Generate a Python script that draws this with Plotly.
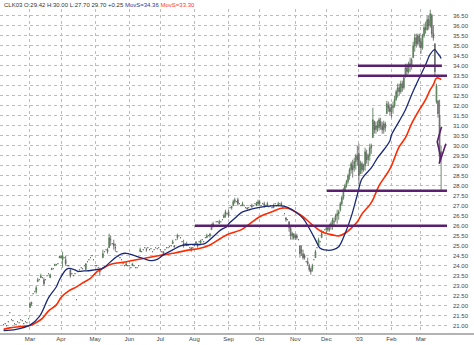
import pandas as pd
import plotly.graph_objects as go

# NYMEX holidays inside the charted span
holidays = ["2002-02-18", "2002-03-29", "2002-05-27", "2002-07-04", "2002-09-02",
            "2002-11-28", "2002-12-25", "2003-01-01", "2003-01-20", "2003-02-17"]

# Daily bars (open, high, low, close), one list per month
feb_02 = [(21.05, 21.05, 21.05, 21.05), (21.10, 21.10, 21.10, 21.10), (21.00, 21.00, 21.00, 21.00),
          (21.20, 21.20, 21.20, 21.20), (21.65, 21.65, 21.65, 21.65), (21.30, 21.30, 21.30, 21.30),
          (21.25, 21.25, 21.25, 21.25), (21.10, 21.10, 21.10, 21.10), (21.05, 21.05, 21.05, 21.05),
          (21.20, 21.20, 21.20, 21.20), (21.15, 21.15, 21.15, 21.15), (21.30, 21.30, 21.30, 21.30),
          (21.25, 21.25, 21.25, 21.25), (21.10, 21.10, 21.10, 21.10), (21.20, 21.20, 21.20, 21.20),
          (21.15, 21.15, 21.15, 21.15), (21.35, 21.35, 21.35, 21.35)]
mar_02 = [(21.90, 22.20, 21.90, 22.10), (22.10, 22.20, 22.00, 22.15), (22.60, 22.60, 22.60, 22.60),
          (22.70, 22.70, 22.70, 22.70), (22.70, 23.00, 22.60, 22.90), (23.20, 23.40, 23.20, 23.30),
          (23.30, 23.30, 23.30, 23.30), (23.40, 23.60, 23.40, 23.50), (23.40, 23.40, 23.40, 23.40),
          (23.30, 23.40, 23.00, 23.10), (23.30, 23.30, 23.30, 23.30), (23.50, 23.50, 23.50, 23.50),
          (23.60, 23.60, 23.60, 23.60), (23.40, 23.60, 23.40, 23.55), (23.80, 23.90, 23.80, 23.85),
          (23.85, 23.85, 23.85, 23.85), (24.00, 24.10, 24.00, 24.05), (24.05, 24.05, 24.05, 24.05),
          (24.10, 24.10, 24.10, 24.10), (24.40, 24.50, 24.40, 24.45)]
apr_02 = [(24.40, 24.50, 24.35, 24.45), (24.30, 24.70, 23.90, 24.50), (24.40, 24.40, 24.40, 24.40),
          (24.30, 24.50, 24.00, 24.10), (24.00, 24.00, 24.00, 24.00), (24.00, 24.00, 24.00, 24.00),
          (23.80, 23.80, 23.40, 23.50), (23.60, 23.60, 23.60, 23.60), (23.50, 23.50, 23.50, 23.50),
          (23.60, 23.60, 23.60, 23.60), (22.30, 22.30, 22.30, 22.30), (23.70, 23.70, 23.70, 23.70),
          (23.80, 23.80, 23.80, 23.80), (23.90, 23.90, 23.90, 23.90), (23.85, 23.85, 23.85, 23.85),
          (24.00, 24.00, 24.00, 24.00), (23.80, 24.10, 23.80, 24.10), (24.20, 24.20, 24.20, 24.20),
          (24.30, 24.30, 24.30, 24.30), (24.40, 24.40, 24.40, 24.40), (24.50, 24.50, 24.50, 24.50),
          (24.30, 24.30, 24.30, 24.30)]
may_02 = [(24.00, 24.00, 24.00, 24.00), (24.00, 24.00, 24.00, 24.00), (23.90, 23.90, 23.90, 23.90),
          (23.80, 23.90, 23.50, 23.70), (23.80, 23.80, 23.80, 23.80), (24.40, 24.80, 24.40, 24.60),
          (24.70, 24.70, 24.70, 24.70), (24.80, 24.80, 24.80, 24.80), (24.70, 24.90, 24.60, 24.80),
          (24.90, 25.60, 24.90, 25.40), (25.30, 25.50, 25.00, 25.30), (25.10, 25.10, 25.10, 25.10),
          (25.10, 25.30, 24.80, 25.00), (24.90, 25.10, 24.70, 24.90), (24.70, 24.70, 24.70, 24.70),
          (24.50, 24.50, 24.50, 24.50), (24.40, 24.40, 24.40, 24.40), (24.30, 24.30, 24.30, 24.30),
          (24.10, 24.10, 24.10, 24.10), (24.00, 24.00, 24.00, 24.00), (24.00, 24.20, 24.00, 24.10),
          (24.00, 24.00, 24.00, 24.00)]
jun_02 = [(24.00, 24.00, 24.00, 24.00), (23.90, 23.90, 23.90, 23.90), (24.00, 24.10, 24.00, 24.10),
          (24.00, 24.00, 24.00, 24.00), (23.90, 23.90, 23.90, 23.90), (23.90, 23.90, 23.90, 23.90),
          (24.00, 24.00, 24.00, 24.00), (24.70, 24.90, 24.70, 24.80), (24.70, 24.70, 24.70, 24.70),
          (24.80, 24.80, 24.80, 24.80), (24.90, 24.90, 24.90, 24.90), (24.80, 24.90, 24.70, 24.80),
          (24.90, 24.90, 24.90, 24.90), (24.80, 24.80, 24.80, 24.80), (24.85, 24.85, 24.85, 24.85),
          (24.70, 24.70, 24.70, 24.70), (24.80, 24.80, 24.80, 24.80), (24.90, 24.90, 24.90, 24.90),
          (24.85, 24.85, 24.85, 24.85), (24.90, 24.90, 24.90, 24.90)]
jul_02 = [(24.80, 24.80, 24.80, 24.80), (24.70, 24.70, 24.70, 24.70), (24.70, 24.70, 24.50, 24.60),
          (24.80, 24.80, 24.80, 24.80), (24.90, 24.90, 24.90, 24.90), (24.90, 24.90, 24.90, 24.90),
          (24.95, 24.95, 24.95, 24.95), (25.00, 25.00, 25.00, 25.00), (25.10, 25.30, 25.10, 25.20),
          (25.00, 25.00, 24.90, 24.95), (25.30, 25.30, 25.30, 25.30), (25.40, 25.60, 25.30, 25.50),
          (25.50, 25.50, 25.50, 25.50), (25.40, 25.40, 25.40, 25.40), (25.20, 25.20, 25.20, 25.20),
          (25.10, 25.30, 24.90, 25.00), (25.10, 25.10, 25.10, 25.10), (25.00, 25.20, 25.00, 25.10),
          (25.05, 25.05, 25.05, 25.05), (24.90, 24.90, 24.90, 24.90), (24.90, 24.90, 24.70, 24.80),
          (24.90, 24.90, 24.90, 24.90)]
aug_02 = [(25.00, 25.00, 25.00, 25.00), (25.10, 25.20, 25.10, 25.20), (25.10, 25.10, 24.90, 25.00),
          (25.20, 25.20, 25.20, 25.20), (25.15, 25.30, 25.10, 25.25), (25.30, 25.30, 25.30, 25.30),
          (25.20, 25.20, 25.20, 25.20), (25.40, 25.40, 25.40, 25.40), (25.40, 25.60, 25.40, 25.50),
          (25.50, 25.50, 25.50, 25.50), (25.50, 25.60, 25.40, 25.60), (25.80, 26.10, 25.80, 26.00),
          (26.00, 26.20, 25.90, 26.10), (26.00, 26.00, 26.00, 26.00), (26.20, 26.20, 26.20, 26.20),
          (26.20, 26.20, 26.20, 26.20), (26.10, 26.30, 26.10, 26.20), (26.20, 26.20, 26.20, 26.20),
          (26.30, 26.30, 26.30, 26.30), (26.40, 26.60, 26.40, 26.50), (26.50, 26.80, 26.40, 26.70),
          (26.60, 26.60, 26.60, 26.60)]
sep_02 = [(26.70, 26.80, 26.40, 26.50), (26.90, 26.90, 26.90, 26.90), (26.90, 27.00, 26.80, 26.95),
          (27.00, 27.30, 27.00, 27.20), (27.20, 27.40, 27.10, 27.30), (27.20, 27.20, 27.20, 27.20),
          (27.30, 27.40, 27.00, 27.10), (27.10, 27.10, 27.10, 27.10), (27.00, 27.00, 27.00, 27.00),
          (27.00, 27.20, 27.00, 27.10), (27.00, 27.00, 27.00, 27.00), (26.90, 26.90, 26.90, 26.90),
          (26.90, 26.90, 26.80, 26.85), (26.90, 26.90, 26.90, 26.90), (27.00, 27.00, 27.00, 27.00),
          (27.00, 27.10, 26.90, 26.95), (27.00, 27.00, 27.00, 27.00), (27.10, 27.10, 27.10, 27.10),
          (27.00, 27.20, 27.00, 27.10), (27.10, 27.30, 27.00, 27.20)]
oct_02 = [(27.20, 27.30, 27.00, 27.10), (27.00, 27.00, 27.00, 27.00), (27.10, 27.10, 27.10, 27.10),
          (27.10, 27.20, 26.90, 27.00), (27.00, 27.00, 27.00, 27.00), (27.00, 27.20, 27.00, 27.10),
          (26.95, 26.95, 26.95, 26.95), (27.00, 27.00, 27.00, 27.00), (26.90, 26.90, 26.90, 26.90),
          (26.90, 27.10, 26.90, 27.00), (27.10, 27.10, 27.10, 27.10), (27.00, 27.00, 27.00, 27.00),
          (27.00, 27.20, 27.00, 27.10), (27.10, 27.10, 27.10, 27.10), (27.10, 27.20, 27.00, 27.00),
          (26.90, 26.90, 26.90, 26.90), (26.60, 26.60, 26.60, 26.60), (26.40, 26.40, 26.20, 26.30),
          (26.30, 26.30, 26.30, 26.30), (26.20, 26.20, 25.70, 25.90), (25.90, 26.00, 25.30, 25.50),
          (25.50, 25.70, 25.30, 25.60), (25.60, 25.60, 25.30, 25.40)]
nov_02 = [(25.40, 25.60, 25.30, 25.50), (25.50, 25.60, 25.30, 25.40), (25.30, 25.30, 25.30, 25.30),
          (25.00, 25.00, 24.40, 24.60), (24.70, 25.00, 24.50, 24.80), (24.60, 24.80, 24.30, 24.40),
          (24.50, 24.60, 24.30, 24.40), (24.20, 24.20, 24.20, 24.20), (24.20, 24.40, 24.00, 24.10),
          (24.00, 24.10, 23.70, 23.80), (23.80, 23.90, 23.55, 23.70), (23.80, 24.10, 23.70, 24.00),
          (24.30, 24.30, 24.30, 24.30), (24.40, 24.80, 24.40, 24.70), (24.90, 24.90, 24.90, 24.90),
          (25.00, 25.40, 25.00, 25.30), (25.20, 25.20, 25.20, 25.20), (25.40, 25.80, 25.40, 25.60),
          (25.70, 25.70, 25.70, 25.70), (25.80, 25.80, 25.80, 25.80)]
dec_02 = [(25.80, 26.00, 25.60, 25.90), (25.90, 26.00, 25.70, 25.80), (25.80, 26.10, 25.70, 26.00),
          (26.00, 26.20, 25.80, 26.10), (26.00, 26.40, 25.80, 26.30), (26.20, 26.40, 26.00, 26.20),
          (26.30, 26.60, 26.20, 26.50), (26.50, 26.80, 26.10, 26.60), (26.60, 26.80, 26.30, 26.70),
          (26.80, 27.20, 26.70, 27.10), (27.10, 27.50, 27.00, 27.40), (27.40, 27.90, 27.30, 27.80),
          (27.80, 28.10, 27.70, 28.00), (28.00, 28.30, 27.90, 28.20), (28.20, 28.60, 28.10, 28.50),
          (28.50, 28.90, 28.30, 28.80), (28.80, 29.20, 28.60, 29.10), (29.00, 29.30, 28.40, 28.80),
          (28.90, 29.40, 28.70, 29.20), (29.20, 29.60, 28.80, 29.50), (29.50, 30.00, 29.00, 29.30)]
jan_03 = [(29.60, 30.10, 28.10, 28.50), (28.60, 29.25, 28.60, 29.10), (29.10, 29.20, 28.60, 28.80),
          (28.80, 29.10, 28.70, 29.00), (29.00, 29.90, 28.75, 29.70), (29.60, 29.80, 29.10, 29.30),
          (29.30, 29.60, 29.00, 29.50), (29.50, 30.10, 29.25, 29.90), (29.90, 30.10, 29.60, 30.00),
          (30.40, 31.90, 30.40, 31.30), (31.20, 31.25, 30.60, 30.80), (30.80, 31.20, 30.60, 31.00),
          (31.00, 31.25, 30.70, 30.90), (30.90, 31.40, 30.75, 31.30), (31.20, 31.40, 30.80, 31.00),
          (31.00, 31.20, 30.60, 30.80), (30.80, 31.25, 30.60, 31.10), (31.10, 31.20, 30.70, 30.90),
          (31.60, 32.25, 31.60, 32.10), (32.00, 32.20, 31.70, 31.90), (31.90, 32.10, 31.50, 31.70)]
feb_03 = [(31.70, 32.10, 31.40, 31.90), (31.90, 32.20, 31.60, 32.00), (32.00, 32.50, 31.90, 32.30),
          (32.30, 32.80, 32.25, 32.70), (32.70, 33.10, 32.40, 32.90), (32.90, 33.10, 32.50, 32.70),
          (32.70, 33.25, 32.60, 33.10), (33.10, 33.25, 32.70, 32.90), (32.90, 33.50, 32.80, 33.40),
          (33.50, 34.10, 33.40, 33.90), (33.90, 34.10, 33.50, 33.70), (33.70, 34.20, 33.60, 34.10),
          (34.10, 34.40, 33.70, 34.00), (34.00, 34.40, 33.80, 34.30), (34.40, 35.20, 34.40, 35.00),
          (35.00, 35.60, 34.70, 35.40), (35.40, 35.60, 34.90, 35.10), (35.10, 35.60, 35.00, 35.50),
          (35.50, 35.60, 34.90, 35.20)]
mar_03 = [(35.20, 35.40, 34.60, 34.90), (34.90, 35.60, 34.80, 35.50), (35.50, 36.10, 35.40, 35.90),
          (35.90, 36.20, 35.60, 35.80), (35.80, 36.50, 35.75, 36.30), (36.30, 36.50, 35.80, 36.00),
          (36.00, 36.80, 35.90, 36.60), (36.50, 36.60, 35.40, 35.60), (35.60, 36.00, 35.25, 35.40),
          (35.10, 35.10, 33.50, 33.70), (32.20, 33.10, 32.10, 33.00), (32.25, 32.25, 31.40, 31.60),
          (31.50, 32.30, 29.30, 29.45), (29.42, 30.00, 27.70, 29.70)]

# Moving averages (fast = blue, slow = red)
ma_fast_dates = ["2002-02-05", "2002-02-15", "2002-03-01", "2002-03-11", "2002-03-19", "2002-03-26",
                 "2002-03-28", "2002-04-04", "2002-04-08", "2002-04-12", "2002-04-16", "2002-04-22",
                 "2002-04-26", "2002-05-02", "2002-05-07", "2002-05-10", "2002-05-17", "2002-05-24",
                 "2002-05-30", "2002-06-05", "2002-06-14", "2002-06-21", "2002-06-27", "2002-07-03",
                 "2002-07-12", "2002-07-19", "2002-07-29", "2002-08-06", "2002-08-12", "2002-08-19",
                 "2002-08-26", "2002-08-30", "2002-09-03", "2002-09-10", "2002-09-16", "2002-09-23",
                 "2002-10-01", "2002-10-11", "2002-10-21", "2002-10-25", "2002-11-01", "2002-11-08",
                 "2002-11-14", "2002-11-20", "2002-11-25", "2002-11-29", "2002-12-06", "2002-12-12",
                 "2002-12-18", "2002-12-24", "2002-12-31", "2003-01-06", "2003-01-14", "2003-01-21",
                 "2003-01-28", "2003-01-31", "2003-02-03", "2003-02-10", "2003-02-14", "2003-02-21",
                 "2003-02-28", "2003-03-06", "2003-03-11", "2003-03-14", "2003-03-17", "2003-03-19",
                 "2003-03-20"]
ma_fast = [20.76, 20.82, 21.03, 21.45, 22.40, 22.95, 23.30, 23.79, 23.87, 23.79, 23.72, 23.74,
           23.76, 23.81, 23.84, 23.99, 24.34, 24.59, 24.62, 24.54, 24.36, 24.25, 24.32, 24.54,
           24.79, 24.99, 25.06, 25.06, 25.12, 25.45, 25.79, 25.96, 26.09, 26.44, 26.69, 26.81,
           26.92, 26.99, 26.99, 26.92, 26.70, 26.37, 25.87, 25.29, 24.87, 24.79, 24.79, 24.95,
           25.59, 26.44, 27.55, 28.35, 28.89, 29.39, 29.89, 30.25, 30.54, 31.23, 31.80, 32.55,
           33.40, 34.05, 34.58, 34.80, 34.70, 34.50, 34.36]

ma_slow_dates = ["2002-02-05", "2002-02-11", "2002-02-20", "2002-03-01", "2002-03-07", "2002-03-13",
                 "2002-03-19", "2002-03-26", "2002-04-01", "2002-04-08", "2002-04-15", "2002-04-19",
                 "2002-04-26", "2002-05-02", "2002-05-08", "2002-05-14", "2002-05-20", "2002-05-28",
                 "2002-06-05", "2002-06-14", "2002-06-24", "2002-07-03", "2002-07-16", "2002-07-29",
                 "2002-08-06", "2002-08-15", "2002-08-26", "2002-09-03", "2002-09-13", "2002-09-23",
                 "2002-10-01", "2002-10-11", "2002-10-21", "2002-10-25", "2002-11-01", "2002-11-08",
                 "2002-11-18", "2002-11-26", "2002-12-06", "2002-12-12", "2002-12-18", "2002-12-24",
                 "2002-12-31", "2003-01-06", "2003-01-13", "2003-01-15", "2003-01-22", "2003-01-31",
                 "2003-02-10", "2003-02-14", "2003-02-21", "2003-02-28", "2003-03-06", "2003-03-11",
                 "2003-03-13", "2003-03-17", "2003-03-19", "2003-03-20"]
ma_slow = [20.82, 20.89, 20.95, 21.01, 21.16, 21.37, 21.74, 22.04, 22.41, 22.74, 22.94, 23.14,
           23.37, 23.69, 23.87, 24.04, 24.12, 24.17, 24.26, 24.36, 24.45, 24.54, 24.65, 24.79,
           24.86, 25.04, 25.37, 25.59, 25.79, 26.12, 26.45, 26.70, 26.87, 26.87, 26.70, 26.45,
           26.04, 25.70, 25.54, 25.49, 25.62, 25.87, 26.20, 26.59, 27.04, 27.29, 28.00, 28.84,
           29.95, 30.40, 31.10, 31.80, 32.30, 32.80, 33.05, 33.38, 33.36, 33.30]

# Horizontal support / resistance levels
level_prices = [34.00, 33.50, 27.75, 26.00]
level_starts = ["2002-12-31 09:00", "2002-12-31 09:00", "2002-12-02 10:00", "2002-08-01 07:00"]
level_ends = ["2003-03-20 12:00", "2003-03-26", "2003-03-26", "2003-03-26"]

# Small hand-drawn zigzag at the last bars
zigzag_dates = ["2003-03-20 07:00", "2003-03-17 12:00", "2003-03-19 17:00", "2003-03-18 19:00",
                "2003-03-25 02:00"]
zigzag_prices = [30.95, 30.20, 29.45, 29.10, 30.10]

month_starts = ["2002-03-01", "2002-04-01", "2002-05-01", "2002-06-03", "2002-07-01", "2002-08-01",
                "2002-09-03", "2002-10-01", "2002-11-01", "2002-12-02", "2003-01-02", "2003-02-03",
                "2003-03-03"]
month_labels = ["Mar", "Apr", "May", "Jun", "Jul", "Aug", "Sep", "Oct", "Nov", "Dec", "'03", "Feb", "Mar"]

price_ticks = [21.0 + 0.5 * i for i in range(32)]

months = [feb_02, mar_02, apr_02, may_02, jun_02, jul_02, aug_02, sep_02, oct_02, nov_02,
          dec_02, jan_03, feb_03, mar_03]
bars = [b for m in months for b in m]
days = pd.bdate_range("2002-02-05", "2003-03-20", freq="C", holidays=holidays)
assert len(days) == len(bars), (len(days), len(bars))

opens = [b[0] for b in bars]
highs = [b[1] for b in bars]
lows = [b[2] for b in bars]
closes = [b[3] for b in bars]

fig = go.Figure()

fig.add_trace(go.Candlestick(
    x=days, open=opens, high=highs, low=lows, close=closes,
    increasing=dict(line=dict(color="#4e6e4e", width=0.8), fillcolor="#7fd07f"),
    decreasing=dict(line=dict(color="#5a5a5a", width=0.8), fillcolor="#a8a8a8"),
    whiskerwidth=0, showlegend=False, hoverinfo="skip",
))

fig.add_trace(go.Scatter(x=ma_slow_dates, y=ma_slow, mode="lines",
                         line=dict(color="#ff2a00", width=1.6, shape="spline"),
                         showlegend=False, hoverinfo="skip"))
fig.add_trace(go.Scatter(x=ma_fast_dates, y=ma_fast, mode="lines",
                         line=dict(color="#1a2878", width=1.3, shape="spline"),
                         showlegend=False, hoverinfo="skip"))

for p, x0, x1 in zip(level_prices, level_starts, level_ends):
    fig.add_trace(go.Scatter(x=[x0, x1], y=[p, p], mode="lines",
                             line=dict(color="#5a1f6e", width=2.6),
                             showlegend=False, hoverinfo="skip"))

fig.add_trace(go.Scatter(x=zigzag_dates, y=zigzag_prices, mode="lines",
                         line=dict(color="#5a1f6e", width=1.6),
                         showlegend=False, hoverinfo="skip"))

grid = "#bcbcbc"
fig.update_layout(
    width=474, height=345,
    margin=dict(l=0, r=27, t=9, b=11),
    paper_bgcolor="white", plot_bgcolor="white",
    font=dict(family="Liberation Sans", size=6, color="#444444"),
    xaxis=dict(
        type="date",
        range=["2002-01-31 16:00", "2003-03-25 19:00"],
        rangebreaks=[dict(bounds=["sat", "mon"]), dict(values=holidays)],
        rangeslider=dict(visible=False),
        tickmode="array", tickvals=month_starts, ticktext=month_labels,
        showgrid=True, gridcolor=grid, griddash="dot", gridwidth=1,
        ticks="", showline=False, zeroline=False,
        tickfont=dict(size=6, color="#444444"),
    ),
    yaxis=dict(
        range=[20.585, 36.835], side="right",
        tickmode="array", tickvals=price_ticks,
        ticktext=["%.2f" % v for v in price_ticks],
        showgrid=True, gridcolor=grid, griddash="dot", gridwidth=1,
        ticks="", showline=False, zeroline=False, ticklabelstandoff=5,
        tickfont=dict(size=6, color="#444444"),
    ),
    shapes=[dict(type="line", xref="paper", yref="paper", x0=0, x1=474 / 447, y0=0, y1=0,
                 line=dict(color="#9a9a9a", width=1.5))],
    annotations=[dict(
        xref="paper", yref="paper", x=0.004, y=1 + 4.0 / 325, xanchor="left", yanchor="middle",
        showarrow=False, font=dict(size=6, color="#333333"),
        text="CLK03 O:29.42 H:30.00 L:27.70 29.70 +0.25 "
             "<span style='color:#2a3a9a'>MovS=34.36</span> "
             "<span style='color:#ff3a2a'>MovS=33.30</span>",
    )],
)

fig.write_html("out.html")
